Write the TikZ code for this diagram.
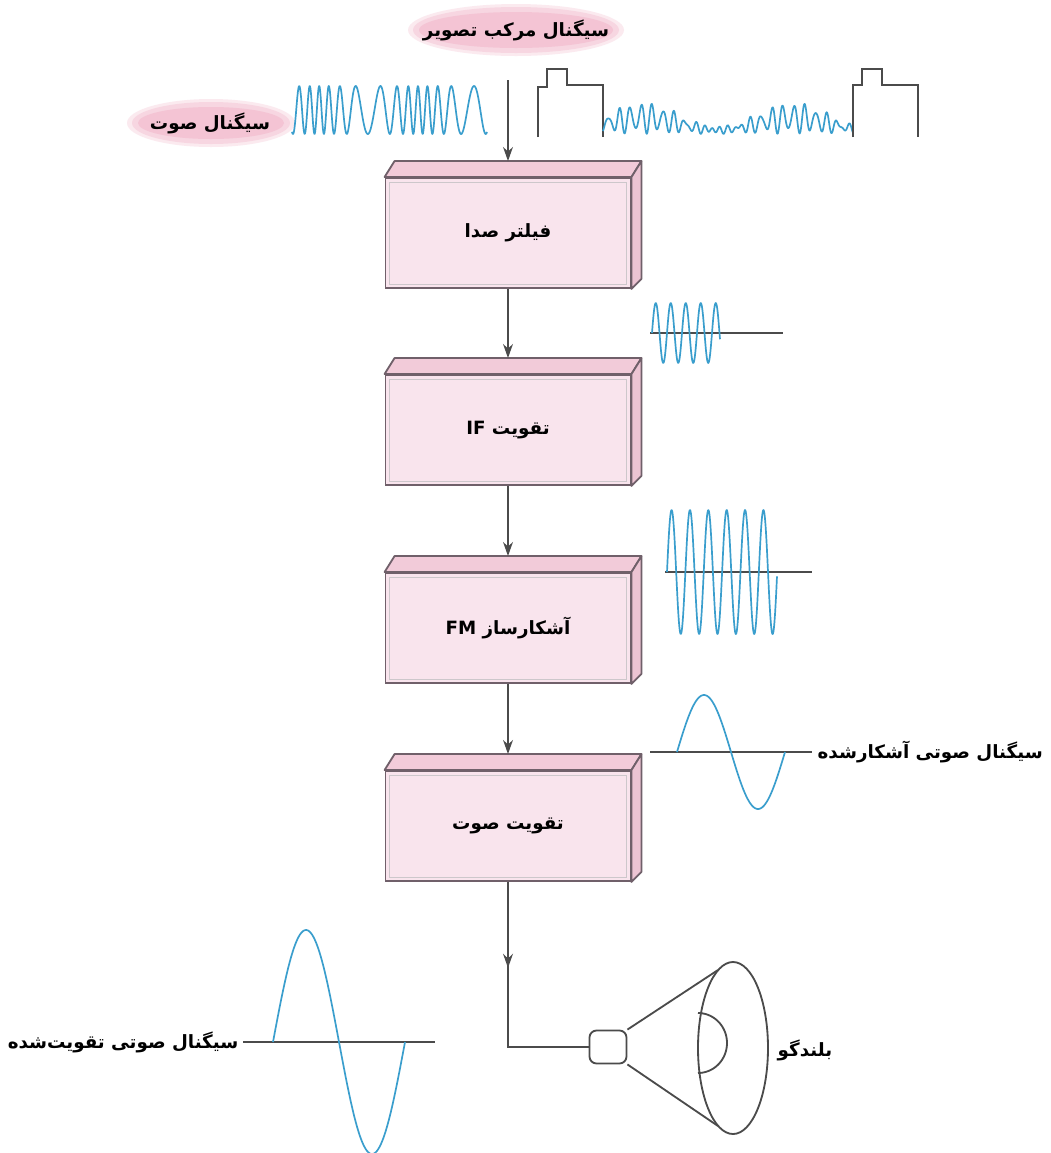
\documentclass[tikz,border=0pt]{standalone}
\usepackage{fontspec}
\usetikzlibrary{calc,arrows.meta,shapes.geometric,decorations.markings}
\TeXXeTstate=1
\newfontfamily\fa[Script=Arabic]{DejaVu Sans}[BoldFont={DejaVu Sans Bold}]
\newcommand{\rtl}[1]{{\fa\bfseries\beginR #1\endR}}

\definecolor{boxedge}{RGB}{112,96,106}
\definecolor{boxfront}{RGB}{249,228,237}
\definecolor{boxtop}{RGB}{242,203,217}
\definecolor{boxside}{RGB}{236,196,211}
\definecolor{wave}{RGB}{58,158,205}
\definecolor{ink}{RGB}{75,75,75}
\definecolor{blobpink}{RGB}{244,196,212}

% top and right faces of a block, plus a faint bevel on its front
\newcommand{\boxfaces}[1]{%
  \path[draw=boxedge, fill=boxtop, line width=1.3pt, line join=round]
    (#1.north west) -- ++(10,-16) -- ($(#1.north east)+(10,-16)$) -- (#1.north east) -- cycle;
  \path[draw=boxedge, fill=boxside, line width=1.3pt, line join=round]
    (#1.north east) -- ++(10,-16) -- ($(#1.south east)+(10,-10)$) -- (#1.south east) -- cycle;
  \draw[boxedge!35, line width=0.5pt]
    ($(#1.north west)+(5,5)$) rectangle ($(#1.south east)+(-5,-5)$);
}

% soft pink patch behind a label: centre, x radius, y radius
\newcommand{\softpatch}[3]{%
  \fill[blobpink, opacity=0.35] (#1) ellipse [x radius=#2+8, y radius=#3+5];
  \fill[blobpink, opacity=0.5] (#1) ellipse [x radius=#2+3, y radius=#3+2];
  \fill[blobpink] (#1) ellipse [x radius=#2-3, y radius=#3-3];
}

\begin{document}
\begin{tikzpicture}[x=0.025cm, y=-0.025cm,
  blockface/.style={draw=boxedge, fill=boxfront, line width=1.3pt,
    minimum width=6.125cm, minimum height=2.75cm, inner sep=0pt,
    font=\fontsize{13}{15}\selectfont},
  conn/.style={draw=ink, line width=1.3pt},
  tip/.style={-{Stealth[length=10pt,width=7pt]}},
  sig/.style={draw=wave, line width=1.2pt, line join=round},
  axisline/.style={draw=ink, line width=1.3pt},
  pulse/.style={draw=ink, line width=1.3pt, line join=miter},
  lbl/.style={inner sep=1pt, font=\fontsize{13}{15}\selectfont}]

\useasboundingbox[fill=white] (0,0) rectangle (1051,1153);

% ---- input labels ----
\softpatch{516,30}{100}{21}
\node[lbl] (video) at (516,30) {\rtl{سیگنال مرکب تصویر}};
\softpatch{211,123}{76}{19}
\node[lbl] (audio) at (210,123) {\rtl{سیگنال صوت}};

% ---- FM sound carrier ----
\draw[sig] plot[domain=292:487, samples=500]
  ({\x},{110-24*cos(25.92*(\x-292)+204.6*sin(3.53*(\x-318)))});

% ---- composite video: sync pulses with picture content ----
\draw[pulse] (538,137) -- (538,87) -- (547,87) -- (547,69) -- (567,69) -- (567,85) -- (603,85) -- (603,137);
\draw[sig] plot[domain=0:250, samples=400]
  ({603+\x},{131-(14+12*cos(2.4*(\x-40)))*(0.5+0.5*sin(33*\x-90))-3*sin(47*\x)});
\draw[pulse] (853,137) -- (853,85) -- (862,85) -- (862,69) -- (882,69) -- (882,85) -- (918,85) -- (918,137);

% ---- blocks ----
\node[blockface] (b1) at (508,233) {\rtl{فیلتر صدا}};
\boxfaces{b1}
\node[blockface] (b2) at (508,430) {\rtl{تقویت \beginL IF\endL}};
\boxfaces{b2}
\node[blockface] (b3) at (508,628) {\rtl{آشکارساز \beginL FM\endL}};
\boxfaces{b3}
\node[blockface] (b4) at (508,826) {\rtl{تقویت صوت}};
\boxfaces{b4}

% ---- signal path ----
\coordinate (in) at (508,80);
\draw[conn, tip] (in) -- ($(b1.north)+(0,-16)$);
\draw[conn, tip] (b1.south) -- ($(b2.north)+(0,-16)$);
\draw[conn, tip] (b2.south) -- ($(b3.north)+(0,-16)$);
\draw[conn, tip] (b3.south) -- ($(b4.north)+(0,-16)$);

% ---- speaker ----
\node[draw=ink, line width=1.3pt, rounded corners=5pt, minimum width=0.925cm,
      minimum height=0.825cm, inner sep=0pt] (spk) at (608,1047) {};
\draw[ink, line width=1.3pt] (733,1048) ellipse [x radius=35, y radius=86];
\draw[ink, line width=1.3pt] (spk.north east) -- (718,970);
\draw[ink, line width=1.3pt] (spk.south east) -- (718,1126);
\draw[ink, line width=1.3pt] plot[domain=-90:90, samples=60] ({698+29*cos(\x)},{1043+30*sin(\x)});
\node[lbl, anchor=west] (spklbl) at (776,1050) {\rtl{بلندگو}};

\draw[conn, postaction={decorate},
  decoration={markings, mark=at position 0.35 with {\arrow{Stealth[length=10pt,width=7pt]}}}]
  (b4.south) -- (b4.south |- spk.west) -- (spk.west);

% ---- waveforms along the chain ----
% after the sound filter
\draw[axisline] (650,333) -- (783,333);
\draw[sig] plot[domain=652:720, samples=200] ({\x},{333-30*sin(24*(\x-652))});
% after IF amplification
\draw[axisline] (665,572) -- (812,572);
\draw[sig] plot[domain=667:777, samples=300] ({\x},{572-62*sin(19.6*(\x-667))});
% detected audio
\draw[axisline] (650,752) -- (812,752);
\draw[sig] plot[domain=677:785, samples=120] ({\x},{752-57*sin(3.333*(\x-677))});
\node[lbl, anchor=west] (detlbl) at (816,752) {\rtl{سیگنال صوتی آشکارشده}};
% amplified audio
\draw[axisline] (243,1042) -- (435,1042);
\draw[sig] plot[domain=273:405, samples=150] ({\x},{1042-112*sin(2.727*(\x-273))});
\node[lbl, anchor=east] (amplbl) at (240,1042) {\rtl{سیگنال صوتی تقویت‌شده}};

\end{tikzpicture}
\end{document}
